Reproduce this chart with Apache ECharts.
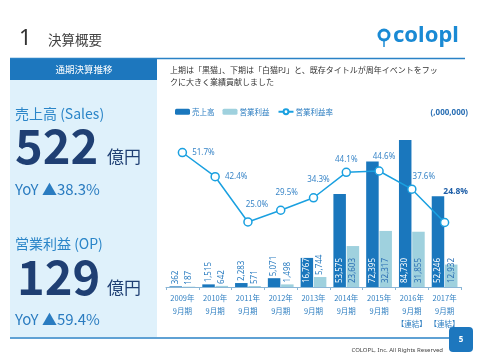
<!DOCTYPE html>
<html><head><meta charset="utf-8">
<script src="https://cdn.jsdelivr.net/npm/echarts@6/dist/echarts.min.js"></script>
<style>html,body{margin:0;padding:0;background:#fff}#c{width:480px;height:356px}</style>
</head><body><div id="c"></div>
<script>
const categories = ['2009年\n9月期','2010年\n9月期','2011年\n9月期','2012年\n9月期','2013年\n9月期','2014年\n9月期','2015年\n9月期','2016年\n9月期\n【連結】','2017年\n9月期\n【連結】'];
const sales = [362, 1515, 2283, 5071, 16767, 53575, 72395, 84730, 52246];
const opProfit = [187, 642, 571, 1498, 5744, 23603, 32317, 31855, 12932];
const opMargin = [51.7, 42.4, 25.0, 29.5, 34.3, 44.1, 44.6, 37.6, 24.8];
const seriesNames = ['売上高', '営業利益', '営業利益率'];

const JP = '"Noto Sans CJK JP", "Noto Sans", sans-serif';
const fmt = v => Number(v).toLocaleString('en-US');

const salesData = sales.map((v, i) => ({
  value: v,
  label: i < 4
    ? {position: 'top', distance: 2, color: '#2a7cc0'}
    : {position: 'insideBottom', distance: 4, color: '#ffffff'}
}));
const opData = opProfit.map((v, i) => ({
  value: v,
  label: i < 5
    ? {position: 'top', distance: 2, color: '#2a7cc0'}
    : {position: 'insideBottom', distance: 4, color: '#2b6fb4'}
}));
const rateLabelPos = [
  {position: 'right', offset: [0, 0]},
  {position: 'right', offset: [0, 0]},
  {position: 'top', offset: [9, -4]},
  {position: 'top', offset: [6, -4]},
  {position: 'top', offset: [5, -4]},
  {position: 'top', offset: [0, 1]},
  {position: 'top', offset: [5, -1]},
  {position: 'top', offset: [12, 1]},
  {position: 'top', offset: [11, -17], fontWeight: 'bold', color: '#1f5fa8', fontSize: 8.5}
];
const rateData = opMargin.map((v, i) => ({value: v, label: rateLabelPos[i]}));

const chart = echarts.init(document.getElementById('c'), null, {renderer: 'canvas'});
const t = (text, x, y, font, fill, align, extra) => ({
  type: 'text', silent: true, z: 10,
  style: Object.assign({text, x, y, font, fill, align: align || 'left', verticalAlign: 'middle'}, extra || {})
});

chart.setOption({
  animation: false,
  textStyle: {fontFamily: JP},
  grid: {left: 166, right: 19, top: 113.5, bottom: 69},
  legend: {
    left: 175, top: 108, padding: 0, itemWidth: 15, itemHeight: 6, itemGap: 8,
    textStyle: {color: '#2a7cc0', fontSize: 7.5, fontFamily: JP, padding: [0, 0, 0, -3]},
    data: seriesNames
  },
  xAxis: {
    type: 'category', data: categories,
    axisLine: {lineStyle: {color: '#8ab6d6', width: 1}},
    axisTick: {show: true, length: 3, lineStyle: {color: '#8ab6d6'}},
    axisLabel: {color: '#2f7fc1', fontSize: 7.5, lineHeight: 13, margin: 4.5, fontFamily: JP, interval: 0}
  },
  yAxis: [
    {type: 'value', min: 0, max: 100000, show: false},
    {type: 'value', min: 0, max: 66.7, show: false}
  ],
  series: [
    {
      name: seriesNames[0], type: 'bar', data: salesData, barWidth: 12.5, barGap: '6%',
      itemStyle: {color: '#1a77bd'},
      label: {show: true, rotate: 90, align: 'left', verticalAlign: 'middle', fontSize: 8, fontFamily: '"Noto Sans", sans-serif', formatter: p => fmt(p.value)}
    },
    {
      name: seriesNames[1], type: 'bar', data: opData, barWidth: 12.5,
      itemStyle: {color: '#9fd1de'},
      label: {show: true, rotate: 90, align: 'left', verticalAlign: 'middle', fontSize: 8, fontFamily: '"Noto Sans", sans-serif', formatter: p => fmt(p.value)}
    },
    {
      name: seriesNames[2], type: 'line', yAxisIndex: 1, data: rateData, z: 5,
      symbol: 'circle', symbolSize: 8,
      lineStyle: {color: '#1aa0e0', width: 1.5},
      itemStyle: {color: '#ffffff', borderColor: '#1aa0e0', borderWidth: 1.5},
      label: {show: true, color: '#3a86c8', fontSize: 8, fontFamily: '"Noto Sans", sans-serif', distance: 5, formatter: p => Number(p.value).toFixed(1) + '%'}
    }
  ],
  graphic: [
    // left panel
    {type: 'rect', silent: true, z: 1, shape: {x: 10, y: 79, width: 147, height: 258}, style: {fill: '#dff1fb'}},
    {type: 'rect', silent: true, z: 2, shape: {x: 10, y: 58, width: 147, height: 22}, style: {fill: '#1d77be'}},
    t('通期決算推移', 84, 69, '9.5px ' + JP, '#ffffff', 'center'),
    t('売上高 (Sales)', 15, 114, '14px ' + JP, '#2a85c8'),
    t('522', 15, 146, 'bold 47px ' + JP, '#1f3f73', 'left', {letterSpacing: -1}),
    t('億円', 107, 157, '17px ' + JP, '#1f3f73'),
    t('YoY ▲38.3%', 15, 189, '15px ' + JP, '#2a7cc0'),
    t('営業利益 (OP)', 15, 244, '14px ' + JP, '#2a85c8'),
    t('129', 17, 277, 'bold 47px ' + JP, '#1f3f73', 'left', {letterSpacing: -1}),
    t('億円', 107, 288, '17px ' + JP, '#1f3f73'),
    t('YoY ▲59.4%', 15, 319, '15px ' + JP, '#2a7cc0'),
    // header
    t('1', 19, 39, '22px "Noto Sans", sans-serif', '#333333'),
    t('決算概要', 48, 40, '13.5px ' + JP, '#444444'),
    {type: 'line', silent: true, z: 3, shape: {x1: 10, y1: 58.5, x2: 465, y2: 58.5}, style: {stroke: '#2a82c6', lineWidth: 1.5}},
    // logo
    {type: 'circle', silent: true, z: 3, shape: {cx: 384, cy: 35, r: 6.5}, style: {fill: '#1a8ad4'}},
    {type: 'circle', silent: true, z: 4, shape: {cx: 384, cy: 35, r: 3.5}, style: {fill: '#ffffff'}},
    {type: 'line', silent: true, z: 3, shape: {x1: 384, y1: 41, x2: 384, y2: 47}, style: {stroke: '#1a8ad4', lineWidth: 1.5}},
    t('colopl', 393, 36, 'bold 22px "Noto Sans", sans-serif', '#1a8ad4'),
    // subtitle
    t('上期は「黒猫」、下期は「白猫PJ」と、既存タイトルが周年イベントをフッ', 170, 70, '8px ' + JP, '#333333'),
    t('クに大きく業績貢献しました', 170, 82, '8px ' + JP, '#333333'),
    t('(,000,000)', 468, 113, 'bold 8px "Noto Sans", sans-serif', '#2a6fb4', 'right'),
    // footer
    {type: 'line', silent: true, z: 3, shape: {x1: 10, y1: 338, x2: 452, y2: 338}, style: {stroke: '#2a82c6', lineWidth: 1.5}},
    {type: 'rect', silent: true, z: 3, shape: {x: 449, y: 327, width: 24, height: 25, r: 4}, style: {fill: '#1d77be'}},
    t('5', 461, 339.5, 'bold 8px "Noto Sans", sans-serif', '#ffffff', 'center'),
    t('COLOPL, Inc. All Rights Reserved', 443, 350, '6px "Noto Sans", sans-serif', '#444444', 'right')
  ]
});
</script></body></html>
